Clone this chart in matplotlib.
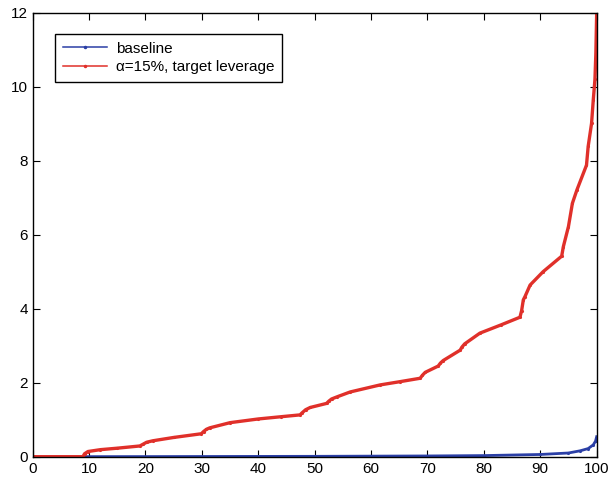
import matplotlib
matplotlib.use("Agg")
import matplotlib.pyplot as plt

plt.rcParams["font.family"] = ["Liberation Sans", "DejaVu Sans"]

# red series: alpha=15%, target leverage (anchor points)
lev_x = [0, 8.9, 9.2, 9.8, 12, 15, 19.0, 19.6, 20.2, 21.3, 25, 29.9, 30.3, 30.8, 31.4,
         35, 40, 44, 47.4, 47.8, 48.4, 49.2, 52.1, 52.5, 53.0, 54, 56.3, 61.6, 65.2,
         68.7, 69.1, 69.6, 71.9, 72.3, 72.8, 75.8, 76.1, 76.6, 79.3, 83, 86.4, 86.7,
         87.0, 87.3, 88.2, 90.5, 93.8, 94.1, 95.0, 95.7, 96.5, 98.2, 98.5, 99.1, 99.4,
         99.7, 99.86, 100]
lev_y = [0, 0, 0.08, 0.14, 0.19, 0.23, 0.29, 0.34, 0.39, 0.43, 0.52, 0.62, 0.68, 0.74, 0.78,
         0.92, 1.02, 1.08, 1.13, 1.19, 1.27, 1.33, 1.44, 1.50, 1.56, 1.62, 1.75, 1.94, 2.03,
         2.12, 2.20, 2.28, 2.45, 2.53, 2.60, 2.88, 2.96, 3.05, 3.34, 3.56, 3.77, 3.95,
         4.24, 4.33, 4.64, 5.0, 5.42, 5.68, 6.22, 6.85, 7.21, 7.88, 8.39, 9.01, 9.64,
         10.2, 10.9, 11.95]

# blue series: baseline
base_x = [0, 20, 50, 70, 80, 90, 95, 97.1, 98.5, 99.4, 99.8, 100]
base_y = [0, 0.003, 0.01, 0.02, 0.03, 0.06, 0.10, 0.16, 0.22, 0.32, 0.42, 0.54]

fig = plt.figure(figsize=(6.11, 4.82), dpi=100)
ax = fig.add_axes([0.0535, 0.0525, 0.923, 0.921])

ax.plot(base_x, base_y, "-", color="#2b3fa6", linewidth=2.0, marker=".", markersize=2.5,
        label="baseline")
ax.plot(lev_x, lev_y, "-", color="#e0302a", linewidth=2.4, marker=".", markersize=2.5,
        label="α=15%, target leverage")

ax.set_xlim(0, 100)
ax.set_ylim(0, 12)
ax.set_xticks(range(0, 101, 10))
ax.set_yticks(range(0, 13, 2))
ax.tick_params(direction="in", top=True, right=True, length=5, labelsize=11)
for s in ax.spines.values():
    s.set_linewidth(1.0)

leg = ax.legend(loc="upper left", bbox_to_anchor=(0.04, 0.952), borderaxespad=0,
                fancybox=False, framealpha=1, edgecolor="black", fontsize=11,
                handlelength=2.9, handletextpad=0.55, borderpad=0.5, labelspacing=0.3)
leg.get_frame().set_linewidth(1.0)
for h in leg.get_lines():
    h.set_linewidth(1.1)
    h.set_markersize(3)

fig.savefig("out.png", dpi=100)
